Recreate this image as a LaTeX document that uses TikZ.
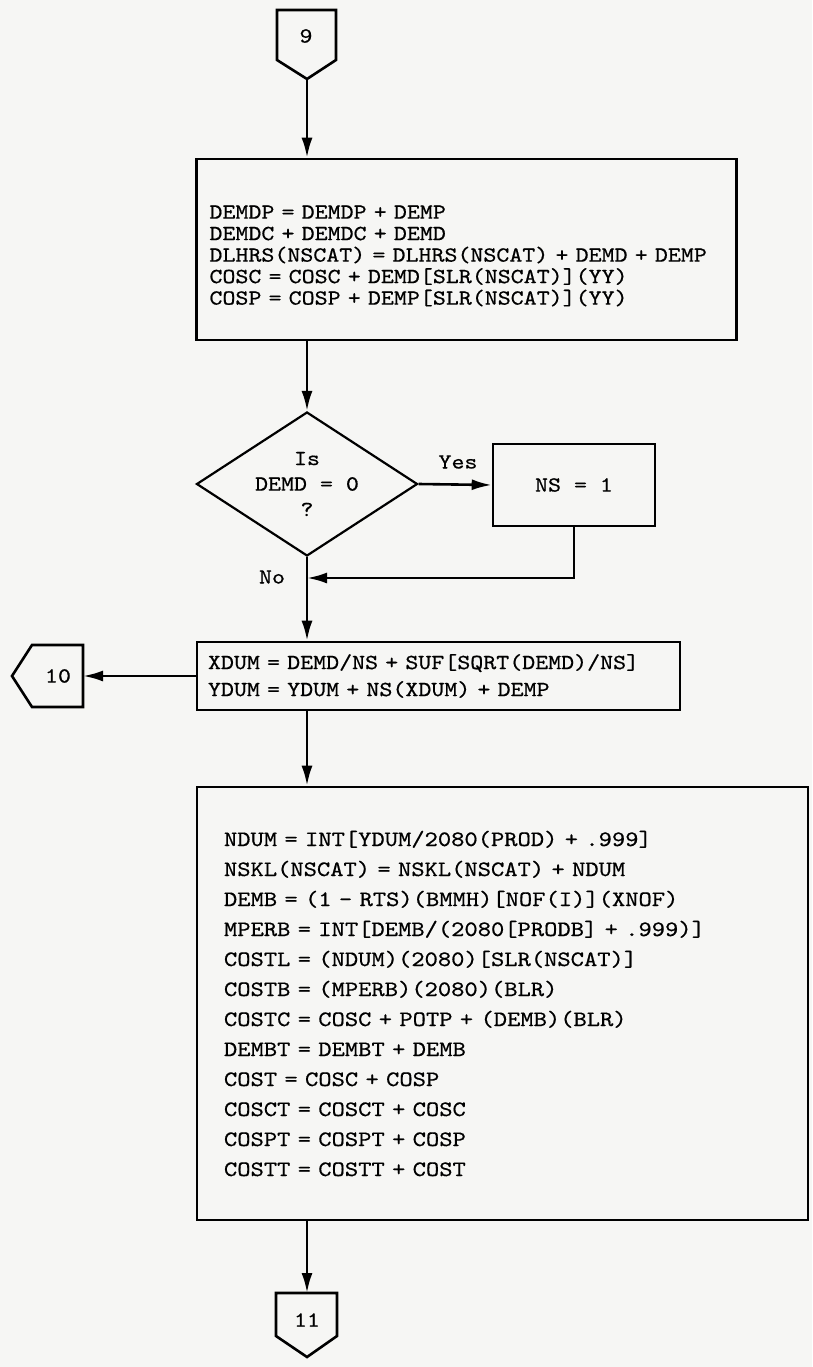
\documentclass[tikz,border=0pt]{standalone}
\usepackage{fontspec}
\newfontfamily\tw{lmmono10-regular.otf}[FakeStretch=1.15,FakeBold=0.6]
\usetikzlibrary{shapes.geometric,arrows.meta}
\definecolor{paper}{HTML}{F6F6F4}
\begin{document}
\lineskiplimit=-100pt
\begin{tikzpicture}[x=1pt,y=-1pt,
  line width=2.6pt,
  txt/.style={font=\tw\fontsize{21.5}{26}\selectfont, inner sep=0pt},
  procbox/.style={draw, rectangle, align=left, inner ysep=0pt},
  conn/.style={draw, line width=2.6pt, line join=miter},
  arr/.style={-{Latex[length=20pt,width=11pt]}}]
\useasboundingbox[fill=paper] (0,0) rectangle (812,1367);

% connector 9
\draw[conn] (277,10) -- (336,10) -- (336,60) -- (307,79) -- (277,60) -- cycle;
\node[txt] (c9) at (306,36) {9};
\coordinate (c9tip) at (307,79);

% box 1
\node[procbox, minimum width=539pt, minimum height=181pt, text width=514pt, inner xsep=13pt,
  font=\tw\fontsize{21.5}{21.5}\selectfont] (b1) at (466.5,249.5)
 {\rule{0pt}{26pt}DEMDP = DEMDP + DEMP\\DEMDC + DEMDC + DEMD\\DLHRS(NSCAT) = DLHRS(NSCAT) + DEMD + DEMP\\COSC = COSC + DEMD[SLR(NSCAT)](YY)\\COSP = COSP + DEMP[SLR(NSCAT)](YY)};

% decision
\node[draw, diamond, aspect=1.53, minimum width=221pt, minimum height=144pt, inner sep=0pt,
  line width=2.2pt, align=center, font=\tw\fontsize{21.5}{25.5}\selectfont] (dia) at (307,484) {Is\\DEMD = 0\\?};

% NS box
\node[procbox, minimum width=162pt, minimum height=82pt, font=\tw\fontsize{21.5}{26}\selectfont] (ns) at (574,485) {NS = 1};

\node[txt] (yes) at (458,462) {Yes};
\node[txt] (no) at (272,577) {No};

% XDUM box
\node[procbox, minimum width=483pt, minimum height=68pt, text width=461pt, inner xsep=11pt,
  font=\tw\fontsize{21.5}{27}\selectfont] (b2) at (438.5,676)
 {XDUM = DEMD/NS + SUF[SQRT(DEMD)/NS]\\YDUM = YDUM + NS(XDUM) + DEMP};

% connector 10
\draw[conn] (83,645) -- (83,707) -- (32,707) -- (12,676) -- (32,645) -- cycle;
\node[txt] (c10) at (58,676) {10};
\coordinate (c10r) at (83,676);

% box 3
\node[procbox, minimum width=611pt, minimum height=433pt, text width=557pt, inner xsep=27pt,
  font=\tw\fontsize{22}{30}\selectfont] (b3) at (502.5,1003.5)
 {NDUM = INT[YDUM/2080(PROD) + .999]\\
  NSKL(NSCAT) = NSKL(NSCAT) + NDUM\\
  DEMB = (1 - RTS)(BMMH)[NOF(I)](XNOF)\\
  MPERB = INT[DEMB/(2080[PRODB] + .999)]\\
  COSTL = (NDUM)(2080)[SLR(NSCAT)]\\
  COSTB = (MPERB)(2080)(BLR)\\
  COSTC = COSC + POTP + (DEMB)(BLR)\\
  DEMBT = DEMBT + DEMB\\
  COST = COSC + COSP\\
  COSCT = COSCT + COSC\\
  COSPT = COSPT + COSP\\
  COSTT = COSTT + COST};

% connector 11
\draw[conn] (276,1293) -- (337,1293) -- (337,1336) -- (307,1357) -- (276,1336) -- cycle;
\node[txt] (c11) at (307,1320) {11};
\coordinate (c11top) at (307,1293);

% connectors
\coordinate (join) at (307,578);
\draw[arr] (c9tip) -- (c9tip |- b1.north);
\draw[arr] (dia.north |- b1.south) -- (dia.north);
\draw[arr] (dia.east) -- (ns.west);
\draw[arr] (ns.south) |- (join);
\draw[arr] (dia.south) -- (dia.south |- b2.north);
\draw[arr] (b2.west) -- (c10r);
\draw[arr] (dia.south |- b2.south) -- (dia.south |- b3.north);
\draw[arr] (dia.south |- b3.south) -- (c11top);
\end{tikzpicture}
\end{document}
